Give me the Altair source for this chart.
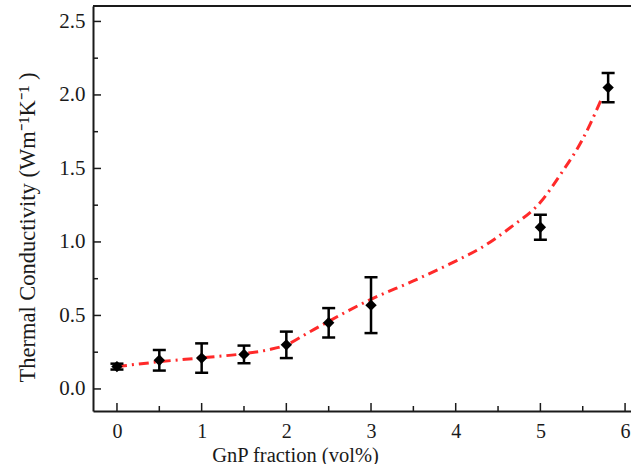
import altair as alt
import pandas as pd

# measured data
gnp = [0.0, 0.5, 1.0, 1.5, 2.0, 2.5, 3.0, 5.0, 5.8]
k_val = [0.152, 0.195, 0.21, 0.235, 0.30, 0.45, 0.57, 1.10, 2.05]
k_err = [0.02, 0.07, 0.10, 0.06, 0.09, 0.10, 0.19, 0.085, 0.10]

# fitted trend line
fit_x = [0.0, 0.5, 1.0, 1.5, 1.8, 2.0, 2.25, 2.5, 3.0, 3.5, 4.0, 4.3, 4.65, 5.0, 5.25, 5.5, 5.72]
fit_y = [0.152, 0.185, 0.212, 0.24, 0.268, 0.30, 0.38, 0.46, 0.61, 0.735, 0.87, 0.96, 1.10, 1.27, 1.47, 1.70, 1.97]

x_major = [0, 1, 2, 3, 4, 5, 6]
x_minor = [0.5, 1.5, 2.5, 3.5, 4.5, 5.5]
y_major = [0.0, 0.5, 1.0, 1.5, 2.0, 2.5]
y_minor = [0.25, 0.75, 1.25, 1.75, 2.25]

W, H = 538, 405
FONT = "Liberation Serif"
INK = "#1a1a1a"

pts = pd.DataFrame({"x": gnp, "y": k_val,
                    "lo": [v - e for v, e in zip(k_val, k_err)],
                    "hi": [v + e for v, e in zip(k_val, k_err)]})
fit = pd.DataFrame({"x": fit_x, "y": fit_y})

xs = alt.Scale(domain=[-0.283, 6.07], nice=False, zero=False)
ys = alt.Scale(domain=[-0.15, 2.605], nice=False, zero=False)

x_axis = alt.Axis(values=x_major, format="d", ticks=False, grid=False,
                  domainColor=INK, domainWidth=2, labelFont=FONT, labelFontSize=20,
                  labelColor=INK, labelPadding=10, title="GnP fraction (vol%)",
                  titleFont=FONT, titleFontSize=20.5, titleFontWeight="normal",
                  titleColor=INK, titleX=202, titleY=50, titleAlign="center",
                  titleBaseline="alphabetic")
y_axis = alt.Axis(values=y_major, format=".1f", ticks=False, grid=False,
                  domainColor=INK, domainWidth=2, labelFont=FONT, labelFontSize=21,
                  labelColor=INK, labelPadding=8,
                  title="Thermal Conductivity (Wm\u207b\u00b9K\u207b\u00b9 )",
                  titleFont=FONT, titleFontSize=22.5, titleFontWeight="normal",
                  titleColor=INK, titleX=-66, titleY=221, titleAlign="center",
                  titleBaseline="middle", titleAngle=-90)

line = alt.Chart(fit).mark_line(color="#ff2a2a", strokeWidth=3,
                                strokeDash=[10, 5, 2, 5], interpolate="monotone").encode(
    x=alt.X("x:Q", scale=xs, axis=x_axis),
    y=alt.Y("y:Q", scale=ys, axis=y_axis),
)

bars = alt.Chart(pts).mark_rule(color="black", strokeWidth=2.5).encode(
    x=alt.X("x:Q", scale=xs), y=alt.Y("lo:Q", scale=ys), y2="hi:Q")
cap_lo = alt.Chart(pts).mark_tick(color="black", orient="horizontal", size=13,
                                  thickness=2.5, opacity=1).encode(
    x=alt.X("x:Q", scale=xs), y=alt.Y("lo:Q", scale=ys))
cap_hi = alt.Chart(pts).mark_tick(color="black", orient="horizontal", size=13,
                                  thickness=2.5, opacity=1).encode(
    x=alt.X("x:Q", scale=xs), y=alt.Y("hi:Q", scale=ys))
marks = alt.Chart(pts).mark_point(shape="diamond", filled=True, color="black",
                                  size=130, opacity=1).encode(
    x=alt.X("x:Q", scale=xs), y=alt.Y("y:Q", scale=ys))

# inward ticks
def xticks(vals, length):
    return alt.Chart(pd.DataFrame({"v": vals})).mark_rule(color=INK, strokeWidth=1.5).encode(
        x=alt.X("v:Q", scale=xs), y=alt.value(H), y2=alt.value(H - length))

def yticks(vals, length):
    return alt.Chart(pd.DataFrame({"v": vals})).mark_rule(color=INK, strokeWidth=1.5).encode(
        y=alt.Y("v:Q", scale=ys), x=alt.value(0), x2=alt.value(length))

top = alt.Chart(pd.DataFrame({"v": [0]})).mark_rule(color=INK, strokeWidth=2).encode(
    x=alt.value(0), x2=alt.value(W), y=alt.value(0))

chart = alt.layer(
    line, xticks(x_major, 8), xticks(x_minor, 5), yticks(y_major, 8), yticks(y_minor, 5),
    top, bars, cap_lo, cap_hi, marks
).properties(
    width=W, height=H,
    autosize=alt.AutoSizeParams(type="none"),
    padding={"left": 93, "top": 6, "right": 0, "bottom": 53},
    background="white",
).configure_view(stroke=None)

chart.save("out.html", embed_options={"renderer": "svg", "actions": False})
